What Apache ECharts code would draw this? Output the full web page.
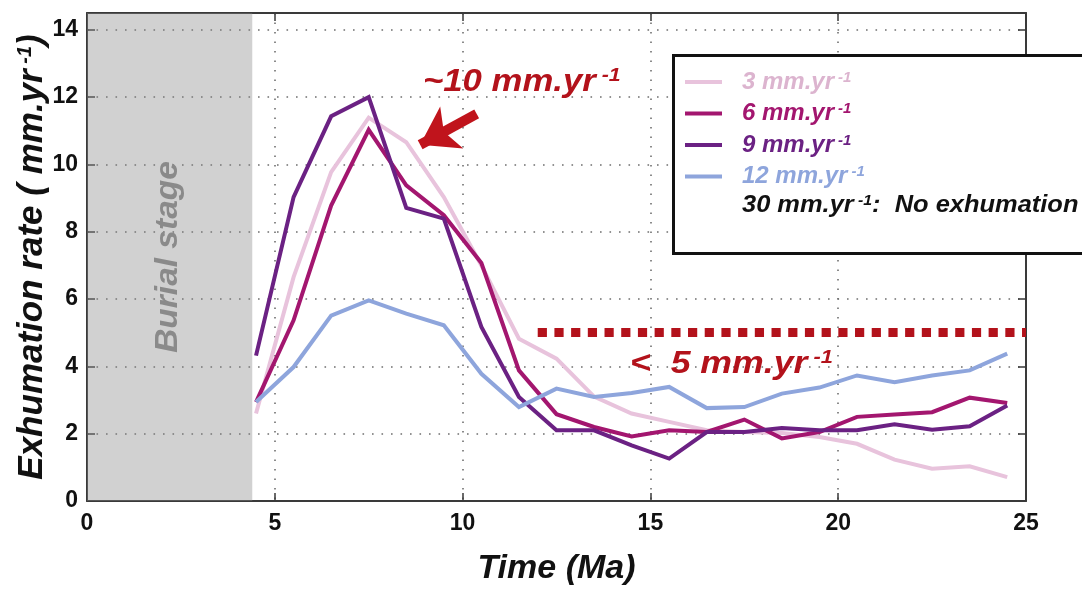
<!DOCTYPE html>
<html>
<head>
<meta charset="utf-8">
<script src="https://cdn.jsdelivr.net/npm/echarts@6/dist/echarts.min.js"></script>
<style>
html,body{margin:0;padding:0;background:#fff;}
#chart{width:1082px;height:590px;}
</style>
</head>
<body>
<div id="chart"></div>
<script>
// ---- data ----
var timeMa = [4.5, 5.5, 6.5, 7.5, 8.5, 9.5, 10.5, 11.5, 12.5, 13.5, 14.5, 15.5, 16.5, 17.5, 18.5, 19.5, 20.5, 21.5, 22.5, 23.5, 24.5];
var rate3  = [2.6, 6.65, 9.77, 11.39, 10.66, 9.03, 7.0, 4.82, 4.23, 3.1, 2.6, 2.35, 2.1, 2.05, 2.02, 1.9, 1.7, 1.23, 0.96, 1.03, 0.71];
var rate6  = [2.94, 5.37, 8.78, 11.03, 9.38, 8.49, 7.07, 3.88, 2.58, 2.2, 1.92, 2.1, 2.05, 2.42, 1.86, 2.05, 2.5, 2.57, 2.64, 3.07, 2.91];
var rate9  = [4.32, 9.03, 11.43, 12.0, 8.71, 8.39, 5.17, 3.09, 2.1, 2.1, 1.65, 1.26, 2.05, 2.05, 2.17, 2.1, 2.1, 2.28, 2.12, 2.22, 2.84];
var rate12 = [2.94, 3.98, 5.51, 5.96, 5.57, 5.22, 3.78, 2.79, 3.34, 3.09, 3.21, 3.39, 2.76, 2.79, 3.19, 3.37, 3.73, 3.53, 3.73, 3.88, 4.38];
var seriesNames = ['3 mm.yr⁻¹', '6 mm.yr⁻¹', '9 mm.yr⁻¹', '12 mm.yr⁻¹'];
var burialStage = [0, 4.4];
var thresholdLine = {from: 12, to: 25, value: 5};
var arrowFromTo = [[10.375, 11.505], [8.87, 10.585]];
var xTicks = {min: 0, max: 25, interval: 5};
var yTicks = {min: 0, max: 14.5, interval: 2};

// ---- style ----
var colors = ['#e8c3dc', '#a3166f', '#6b2183', '#8ea5dc'];
var legendTextColors = ['#dcb4cf', '#a3166f', '#6b2183', '#8ea5dc'];
var FONT = 'Liberation Sans, Arial, Helvetica, sans-serif';
var RED = '#b3121b';

function pairs(xs, ys){ return xs.map(function(x,i){ return [x, ys[i]]; }); }
var allRates = [rate3, rate6, rate9, rate12];

var chart = echarts.init(document.getElementById('chart'), null, {renderer:'canvas'});

function splitStyle(){ return {show:true, lineStyle:{color:'#6f6f6f', type:[1.6, 7.9], width:1.6}}; }
function axisLineStyle(){ return {show:true, onZero:false, lineStyle:{color:'#3a3a3a', width:2}}; }
function tickStyle(){ return {show:true, inside:true, length:8, lineStyle:{color:'#3a3a3a', width:1.5}}; }
function labelStyle(extra){
  var o = {color:'#111', fontSize:23, fontWeight:'bold', fontFamily:FONT};
  for (var k in extra) o[k] = extra[k];
  return o;
}

var series = allRates.map(function(r, i){
  return {
    name: seriesNames[i],
    type: 'line',
    data: pairs(timeMa, r),
    showSymbol: false,
    symbol: 'none',
    lineStyle: {color: colors[i], width: 4, join: 'miter'},
    itemStyle: {color: colors[i]},
    z: 3 + i,
    silent: true,
    animation: false
  };
});

series[0].markArea = {
  silent: true,
  itemStyle: {color: 'rgba(135,135,135,0.38)'},
  data: [[{xAxis: burialStage[0]}, {xAxis: burialStage[1]}]]
};

series[3].markLine = {
  silent: true,
  animation: false,
  label: {show:false},
  emphasis: {disabled: true},
  data: [
    [
      {coord: [thresholdLine.from, thresholdLine.value], symbol:'none',
       lineStyle:{color: RED, width: 9, type:[9.2, 7.5], cap:'butt'}},
      {coord: [thresholdLine.to, thresholdLine.value], symbol:'none'}
    ],
    [
      {coord: arrowFromTo[0], symbol:'none',
       lineStyle:{color: '#c0141c', width: 10, type:'solid', cap:'butt'}},
      {coord: arrowFromTo[1], symbol:'arrow', symbolSize:[36, 36]}
    ]
  ],
  symbolSize: [36, 36]
};

var legendRich = {
  b: {fontSize:24, fontWeight:'bold', fontStyle:'italic', fontFamily:FONT, padding:[0,0,0,15], lineHeight:24},
  s: {fontSize:15, fontWeight:'bold', fontStyle:'italic', fontFamily:FONT, verticalAlign:'top', lineHeight:15, padding:[0,0,0,4]}
};

var annRich = function(){
  return {
    b:{fontSize:31, fontWeight:'bold', fontStyle:'italic', fontFamily:FONT, fill:RED, lineHeight:32},
    s:{fontSize:19, fontWeight:'bold', fontStyle:'italic', fontFamily:FONT, fill:RED, verticalAlign:'top', lineHeight:19}
  };
};

var option = {
  animation: false,
  backgroundColor: '#fff',
  grid: {left:87, right:56, top:13, bottom:89, containLabel:false, outerBoundsMode:'none'},
  legend: {
    show: true,
    orient: 'vertical',
    left: 685,
    top: 70,
    padding: 0,
    itemWidth: 37,
    itemHeight: 4,
    itemGap: 7.5,
    icon: 'rect',
    selectedMode: false,
    z: 20,
    data: seriesNames.map(function(n, i){
      return {name:n, icon:'rect', itemStyle:{color:colors[i]}, textStyle:{color:legendTextColors[i], rich:legendRich}};
    }),
    formatter: function(name){
      return '{b|' + name.replace('⁻¹','') + '}{s|-1}';
    },
    textStyle: {fontSize:24, fontWeight:'bold', fontStyle:'italic', fontFamily:FONT, rich:legendRich}
  },
  xAxis: [
    {
      type:'value', min:xTicks.min, max:xTicks.max, interval:xTicks.interval,
      position:'bottom',
      name:'Time (Ma)', nameLocation:'middle', nameGap:51, nameMoveOverlap:false,
      nameTextStyle:{fontSize:34, fontWeight:'bold', fontStyle:'italic', fontFamily:FONT, color:'#111'},
      axisLine:axisLineStyle(), axisTick:tickStyle(),
      axisLabel:labelStyle({margin:11}),
      splitLine:splitStyle()
    },
    {
      type:'value', min:xTicks.min, max:xTicks.max, interval:xTicks.interval,
      position:'top', axisLine:axisLineStyle(), axisTick:tickStyle(),
      axisLabel:{show:false}, splitLine:{show:false}
    }
  ],
  yAxis: [
    {
      type:'value', min:yTicks.min, max:yTicks.max, interval:yTicks.interval,
      position:'left',
      name:'{b|Exhumation rate ( mm.yr}{s| -1}{b|)}', nameLocation:'middle', nameGap:38, nameRotate:90,
      nameMoveOverlap:false,
      nameTextStyle:{color:'#111', fontFamily:FONT, rich:{
        b:{fontSize:35, fontWeight:'bold', fontStyle:'italic', fontFamily:FONT, color:'#111', lineHeight:34},
        s:{fontSize:20, fontWeight:'bold', fontStyle:'italic', fontFamily:FONT, color:'#111', verticalAlign:'top', lineHeight:20}
      }},
      axisLine:axisLineStyle(), axisTick:tickStyle(),
      axisLabel:labelStyle({margin:9, showMaxLabel:false}),
      splitLine:splitStyle()
    },
    {
      type:'value', min:yTicks.min, max:yTicks.max, interval:yTicks.interval,
      position:'right', axisLine:axisLineStyle(), axisTick:tickStyle(),
      axisLabel:{show:false}, splitLine:{show:false}
    }
  ],
  graphic: [
    {
      type:'rect', left:672, top:54, z:10, silent:true,
      shape:{width:430, height:198},
      style:{fill:'#fff', stroke:'#111', lineWidth:3}
    },
    {
      type:'text', x:742, y:205, z:21, silent:true, scaleX:1.06,
      style:{
        text:'{b|30 mm.yr}{s|-1}{b|:  No exhumation}',
        fill:'#111', verticalAlign:'middle', align:'left',
        rich:{
          b:{fontSize:24, fontWeight:'bold', fontStyle:'italic', fontFamily:FONT, fill:'#111', lineHeight:24},
          s:{fontSize:15, fontWeight:'bold', fontStyle:'italic', fontFamily:FONT, fill:'#111', verticalAlign:'top', lineHeight:15, padding:[0,0,0,4]}
        }
      }
    },
    {
      type:'text', x:168, y:257, z:5, rotation:Math.PI/2, scaleX:1.08, silent:true,
      style:{
        text:'Burial stage', fill:'#8a8a8a', align:'center', verticalAlign:'middle',
        font:'italic bold 31px ' + FONT
      }
    },
    {
      type:'text', x:423, y:82, z:22, silent:true, scaleX:1.12,
      style:{
        text:'{b|~10 mm.yr}{s| -1}', fill:RED, align:'left', verticalAlign:'middle',
        rich:annRich()
      }
    },
    {
      type:'text', x:630, y:364, z:22, silent:true, scaleX:1.15,
      style:{
        text:'{b|<  5 mm.yr}{s| -1}', fill:RED, align:'left', verticalAlign:'middle',
        rich:annRich()
      }
    }
  ],
  series: series
};

chart.setOption(option);
</script>
</body>
</html>
